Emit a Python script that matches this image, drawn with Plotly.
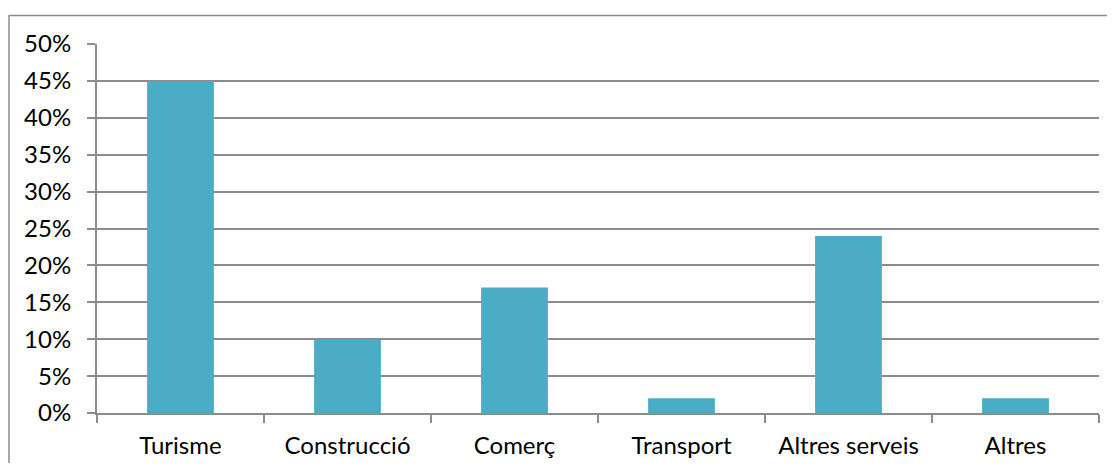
import plotly.graph_objects as go

categories = ["Turisme", "Construcció", "Comerç", "Transport", "Altres serveis", "Altres"]
values = [45, 10, 17, 2, 24, 2]
y_ticks = [0, 5, 10, 15, 20, 25, 30, 35, 40, 45, 50]
y_tick_labels = [f"{v}%" for v in y_ticks]

# page offset of the figure (browser body margin); keep figure inside the window
OFF = 8
W, H = 1115 - 2 * OFF, 473 - 2 * OFF - 2
L, T = 97 - OFF, 44 - OFF
R = (W + OFF) - 1099
B = (H + OFF) - 413
pw, ph = W - L - R, H - T - B

def px_x(x):
    return (x - OFF - L) / pw

def px_y(y):
    return (H - B - (y - OFF)) / ph

fig = go.Figure(go.Bar(x=categories, y=values, marker=dict(color="#4BACC6", line=dict(width=0))))

grid = "#8c8c8c"
font = dict(family="Lato", size=24, color="#000000")
border = dict(color="#8c8c8c", width=1.5)

fig.update_layout(
    width=W, height=H,
    margin=dict(l=L, r=R, t=T, b=B, autoexpand=False),
    paper_bgcolor="white", plot_bgcolor="white",
    bargap=0.6,
    showlegend=False,
    font=font,
    xaxis=dict(
        showline=True, linecolor=grid, linewidth=2, automargin=False,
        ticks="outside", tickson="boundaries", ticklen=8, tickcolor=grid, tickwidth=2,
        showgrid=False, tickfont=font, ticklabelstandoff=10,
    ),
    yaxis=dict(
        range=[0, 50], tickvals=y_ticks, ticktext=y_tick_labels, automargin=False,
        showline=True, linecolor=grid, linewidth=2,
        ticks="outside", ticklen=8, tickcolor=grid, tickwidth=2,
        showgrid=True, gridcolor=grid, gridwidth=2,
        zeroline=False, tickfont=font, ticklabelstandoff=11,
    ),
    shapes=[
        dict(type="line", xref="paper", yref="paper",
             x0=px_x(9), x1=px_x(1116), y0=px_y(15.5), y1=px_y(15.5), line=border, layer="below"),
        dict(type="line", xref="paper", yref="paper",
             x0=px_x(9), x1=px_x(9), y0=px_y(15), y1=px_y(474), line=border, layer="below"),
    ],
)

fig.write_html("out.html")
